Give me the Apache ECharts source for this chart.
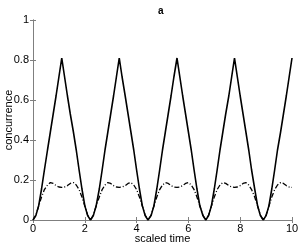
<!DOCTYPE html>
<html>
<head>
<meta charset="utf-8">
<script src="https://cdn.jsdelivr.net/npm/echarts@6/dist/echarts.min.js"></script>
<style>html,body{margin:0;padding:0;background:#fff}#c{width:300px;height:245px}</style>
</head>
<body>
<div id="c"></div>
<script>
var times = [0,0.11,0.22,0.33,0.44,0.56,0.67,0.78,0.89,1.00,1.11,1.22,1.33,1.44,1.56,1.67,1.78,1.89,2.00,2.11,
  2.22,2.33,2.44,2.56,2.67,2.78,2.89,3.00,3.11,3.22,3.33,3.44,3.56,3.67,3.78,3.89,4.00,4.11,4.22,4.33,
  4.44,4.56,4.67,4.78,4.89,5.00,5.11,5.22,5.33,5.44,5.56,5.67,5.78,5.89,6.00,6.11,6.22,6.33,6.44,6.56,
  6.67,6.78,6.89,7.00,7.11,7.22,7.33,7.44,7.56,7.67,7.78,7.89,8.00,8.11,8.22,8.33,8.44,8.56,8.67,8.78,
  8.89,9.00,9.11,9.22,9.33,9.44,9.56,9.67,9.78,9.89,10];
var solid = [0,0.022,0.072,0.155,0.25,0.35,0.44,0.53,0.62,0.715,0.81,0.715,0.62,0.53,0.44,0.35,0.25,0.155,0.072,0.022,
  0,0.022,0.072,0.155,0.25,0.35,0.44,0.53,0.62,0.715,0.81,0.715,0.62,0.53,0.44,0.35,0.25,0.155,0.072,0.022,
  0,0.022,0.072,0.155,0.25,0.35,0.44,0.53,0.62,0.715,0.81,0.715,0.62,0.53,0.44,0.35,0.25,0.155,0.072,0.022,
  0,0.022,0.072,0.155,0.25,0.35,0.44,0.53,0.62,0.715,0.81,0.715,0.62,0.53,0.44,0.35,0.25,0.155,0.072,0.022,
  0,0.022,0.072,0.155,0.25,0.35,0.44,0.53,0.62,0.715,0.81];
var dashed = [0,0.025,0.07,0.115,0.152,0.175,0.187,0.183,0.172,0.165,0.163,0.165,0.172,0.183,0.187,0.175,0.152,0.115,0.07,0.025,
  0,0.025,0.07,0.115,0.152,0.175,0.187,0.183,0.172,0.165,0.163,0.165,0.172,0.183,0.187,0.175,0.152,0.115,0.07,0.025,
  0,0.025,0.07,0.115,0.152,0.175,0.187,0.183,0.172,0.165,0.163,0.165,0.172,0.183,0.187,0.175,0.152,0.115,0.07,0.025,
  0,0.025,0.07,0.115,0.152,0.175,0.187,0.183,0.172,0.165,0.163,0.165,0.172,0.183,0.187,0.175,0.152,0.115,0.07,0.025,
  0,0.025,0.07,0.115,0.152,0.175,0.187,0.183,0.172,0.165,0.163];
var xTicks = [0,2,4,6,8,10];
var yTicks = [0,0.2,0.4,0.6,0.8,1];
var titleText = 'a';
var xName = 'scaled time';
var yName = 'concurrence';

function pairs(ys){ return times.map(function(t,i){ return [t, ys[i]]; }); }

var font = 'Liberation Sans, Arial, sans-serif';
var axisCol = '#7f7f7f';
var chart = echarts.init(document.getElementById('c'), null, {renderer:'canvas'});
function baseAxis(extra){
  var a = {
    type:'value',
    axisLine:{show:true, lineStyle:{color:axisCol, width:1}},
    axisTick:{show:true, inside:true, length:3, lineStyle:{color:axisCol}},
    splitLine:{show:false}
  };
  for (var k in extra) a[k] = extra[k];
  return a;
}
chart.setOption({
  animation:false,
  title:{text:titleText, left:153, top:1, textStyle:{fontFamily:font, fontSize:10, fontWeight:'bold', color:'#000'}},
  grid:{left:33, right:8, top:20, bottom:25, containLabel:false, outerBoundsMode:'none'},
  xAxis:[
    baseAxis({min:0, max:10, interval:2, position:'bottom',
      axisLabel:{fontFamily:font, fontSize:11, color:'#000', margin:3},
      name:xName, nameLocation:'middle', nameGap:13, nameMoveOverlap:false,
      nameTextStyle:{fontFamily:font, fontSize:11, color:'#000'}}),
    baseAxis({min:0, max:10, interval:2, position:'top', axisLabel:{show:false}})
  ],
  yAxis:[
    baseAxis({min:0, max:1, interval:0.2, position:'left',
      axisLabel:{fontFamily:font, fontSize:11, color:'#000', margin:4},
      name:yName, nameLocation:'middle', nameGap:19, nameMoveOverlap:false,
      nameTextStyle:{fontFamily:font, fontSize:11, color:'#000'}}),
    baseAxis({min:0, max:1, interval:0.2, position:'right', axisLabel:{show:false}})
  ],
  series:[
    {type:'line', data:pairs(solid), showSymbol:false, symbol:'none',
      lineStyle:{color:'#000', width:1.6}},
    {type:'line', data:pairs(dashed), showSymbol:false, symbol:'none',
      lineStyle:{color:'#000', width:1.3, type:[5,2,1,2]}}
  ]
});
</script>
</body>
</html>
